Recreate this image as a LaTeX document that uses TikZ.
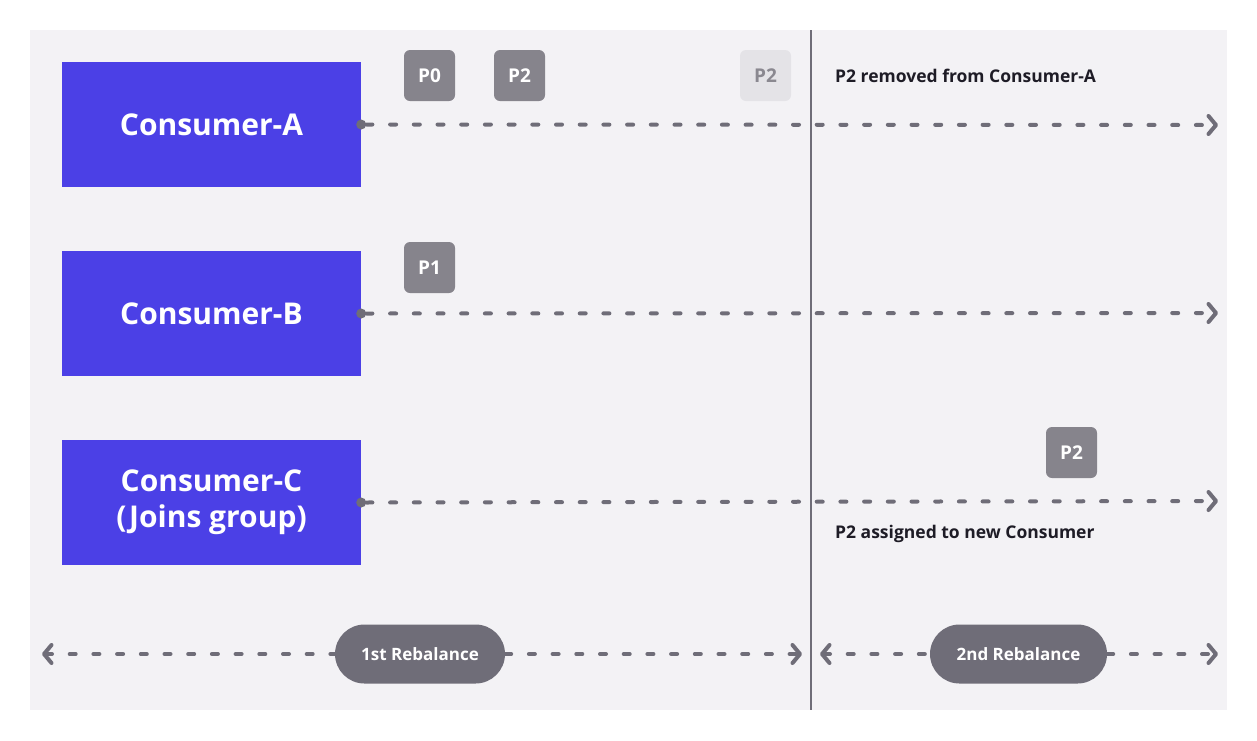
\documentclass[tikz,border=0pt]{standalone}
\usepackage{fontspec}
\setmainfont{Open Sans}
\usetikzlibrary{arrows.meta,
                positioning}

\definecolor{bgcol}{HTML}{F3F2F5}
\definecolor{conblue}{HTML}{4B40E6}
\definecolor{linecol}{HTML}{6F6D78}
\definecolor{partcol}{HTML}{86848C}
\definecolor{fadecol}{HTML}{E4E3E7}
\definecolor{fadetext}{HTML}{8A8890}
\definecolor{inkcol}{HTML}{1E1C26}

\begin{document}
\begin{tikzpicture}[x=1pt, y=-1pt,
    >={Straight Barb[length=7.5pt, width=18pt, line cap=round, line join=round]}]

\useasboundingbox (0,0) rectangle (1257,740);
\fill[bgcol] (30,30) rectangle (1227,710);

% split between the two rebalances
\draw[linecol, line width=2pt] (811,30) -- (811,710);

\begin{scope}[con/.style = {fill=conblue, text=white, minimum width=299pt, minimum height=125pt, inner sep=0pt, align=center, font=\fontsize{30}{36}\selectfont\bfseries},
              dot/.style = {circle, fill=linecol, minimum size=10pt, inner sep=0pt}]
    \node[con] (A) at (211.5,124.5) {Consumer-A};
    \node[con] (B) at (211.5,313.5) {Consumer-B};
    \node[con] (C) at (211.5,502.5) {Consumer-C\\(Joins group)};

    \node[dot] (dA) at (A.east) {};
    \node[dot] (dB) at (B.east) {};
    \node[dot] (dC) at (C.east) {};
\end{scope}

\coordinate (eA) at (1218,125);
\coordinate (eB) at (1218,313);
\coordinate (eC) at (1218,501);

\begin{scope}[part/.style = {fill=partcol, text=white, rounded corners=6pt, minimum size=51pt, inner sep=0pt, font=\fontsize{19}{22}\selectfont\bfseries},
              faded/.style = {part, fill=fadecol, text=fadetext},
              note/.style = {anchor=west, text=inkcol, inner sep=0pt, font=\fontsize{17.5}{20}\selectfont\bfseries}]
    \node[part] (p0) at (429.5,75.5) {P0};
    \node[part] (p2) at (519.5,75.5) {P2};
    \node[faded] (p2old) at (765.5,75.5) {P2};
    \node[part] (p1) at (429.5,267.5) {P1};
    \node[part] (p2new) at (1071.5,452.5) {P2};

    \node[note] (removed) at (835,76) {P2 removed from Consumer-A};
    \node[note] (assigned) at (835,534) {P2 assigned to new Consumer};
\end{scope}

\begin{scope}[tl/.style = {linecol, line width=4pt, line cap=round, dash pattern=on 6pt off 17.7pt}]
    \draw[tl, ->] (dA) -- (eA);
    \draw[tl, ->] (dB) -- (eB);
    \draw[tl, ->] (dC) -- (eC);
\end{scope}

% rebalance spans
\begin{scope}[tl/.style = {linecol, line width=4pt, line cap=round, dash pattern=on 6pt off 17.7pt},
              pill/.style = {fill=linecol, text=white, rounded corners=29.5pt, minimum height=59pt, inner xsep=0pt, font=\fontsize{17}{20}\selectfont\bfseries}]
    \coordinate (s1) at (42,654);
    \coordinate (e1) at (802,654);
    \coordinate (s2) at (820,654);
    \coordinate (e2) at (1218,654);

    \node[pill, minimum width=170pt] (r1) at (420,654) {1st Rebalance};
    \node[pill, minimum width=177pt] (r2) at (1018.5,654) {2nd Rebalance};

    \draw[tl, <-] (s1) -- (r1);
    \draw[tl, ->] (r1) -- (e1);
    \draw[tl, <-] (s2) -- (r2);
    \draw[tl, ->] (r2) -- (e2);
\end{scope}

\end{tikzpicture}
\end{document}
